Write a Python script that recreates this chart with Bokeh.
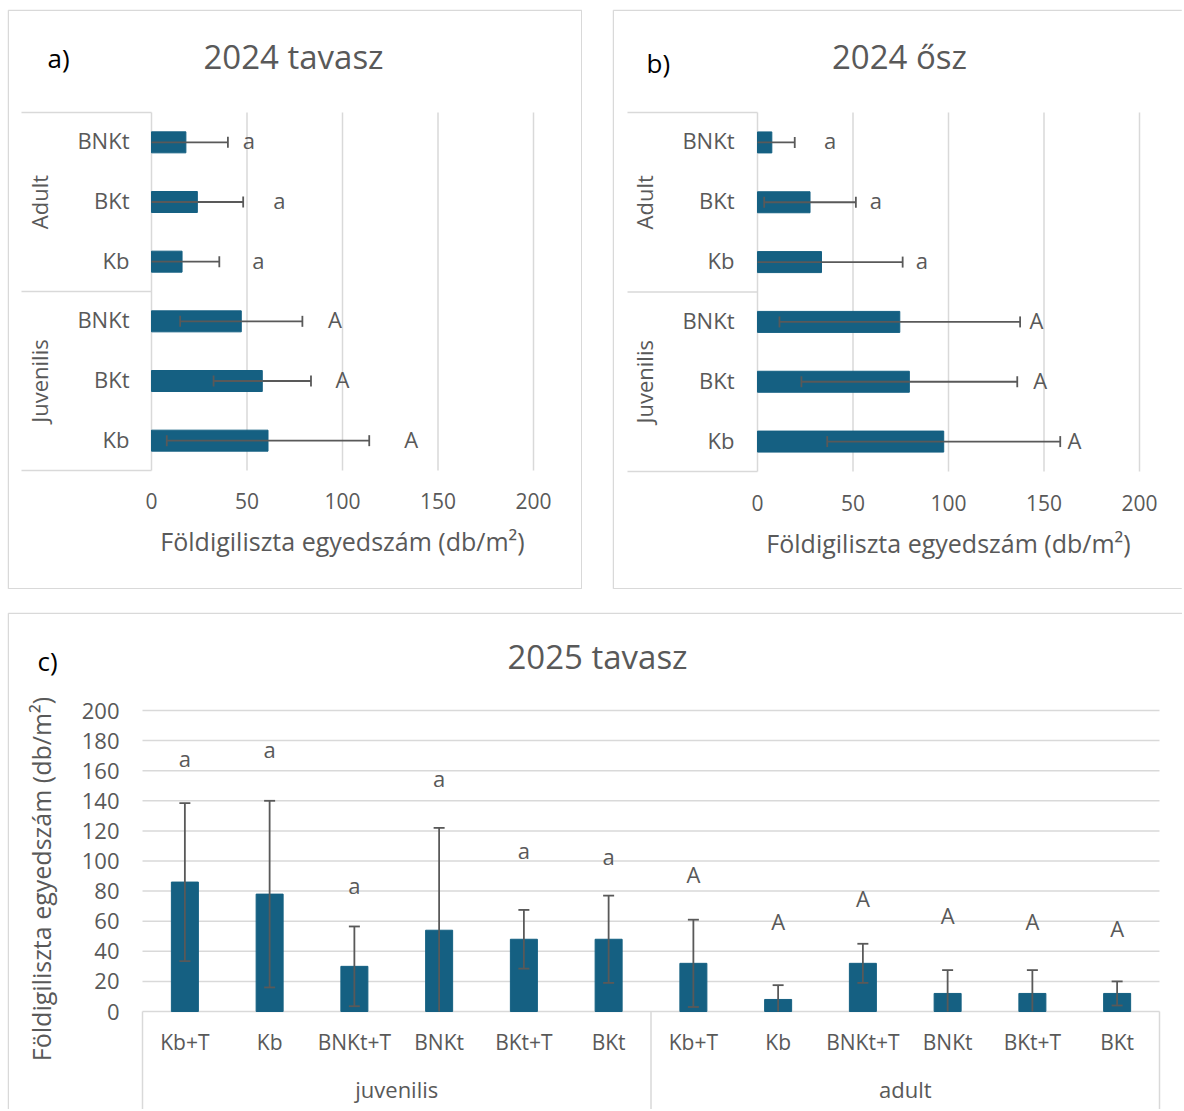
import math
from bokeh.plotting import figure
from bokeh.models import ColumnDataSource, Whisker, TeeHead, Range1d, Spacer
from bokeh.layouts import row, column
from bokeh.embed import file_html
from bokeh.resources import INLINE
from bokeh.core.properties import value

FONT = "Open Sans"
TXT = "#595959"
GRID = "#d9d9d9"
BAR = "#156082"
EB = "#595959"

# ---------------- data ----------------
# panels a and b: categories listed top -> bottom as in the reference
groups_ab = ["Adult", "Adult", "Adult", "Juvenilis", "Juvenilis", "Juvenilis"]
treat_ab = ["BNKt", "BKt", "Kb", "BNKt", "BKt", "Kb"]

a_mean = [18, 24, 16, 47, 58, 61]
a_err = [22, 24, 19.5, 32, 25.5, 53]
a_letters = ["a", "a", "a", "A", "A", "A"]
a_letter_x = [51, 67, 56, 96, 100, 136]

b_mean = [7.5, 27.5, 33.5, 74.5, 79.5, 97.5]
b_err = [12, 24, 42.5, 63, 56.5, 61]
b_letters = ["a", "a", "a", "A", "A", "A"]
b_letter_x = [38, 62, 86, 146, 148, 166]

value_ticks = [0, 50, 100, 150, 200]

# panel c
c_groups = ["juvenilis", "juvenilis", "juvenilis", "juvenilis", "juvenilis", "juvenilis",
            "adult", "adult", "adult", "adult", "adult", "adult"]
c_treat = ["Kb+T", "Kb", "BNKt+T", "BNKt", "BKt+T", "BKt",
           "Kb+T", "Kb", "BNKt+T", "BNKt", "BKt+T", "BKt"]
c_mean = [86, 78, 30, 54, 48, 48, 32, 8, 32, 12, 12, 12]
c_err = [52.5, 62, 26.5, 68, 19.5, 29, 29, 9.5, 13, 15.5, 15.5, 8]
c_letters = ["a", "a", "a", "a", "a", "a", "A", "A", "A", "A", "A", "A"]
c_letter_y = [167, 173, 83, 154, 106, 102, 90, 59, 74, 63, 58.5, 54]
c_ticks = [0, 20, 40, 60, 80, 100, 120, 140, 160, 180, 200]

AXIS_TITLE = "Földigiliszta egyedszám (db/m²)"


# ---------------- helpers ----------------
def blank_fig(W, H, xr, yr):
    p = figure(width=W, height=H, x_range=xr, y_range=yr, output_backend="svg",
               toolbar_location=None, x_axis_location=None, y_axis_location=None,
               min_border=0, min_border_left=0, min_border_right=0,
               min_border_top=0, min_border_bottom=0)
    p.outline_line_color = None
    p.xgrid.grid_line_color = None
    p.ygrid.grid_line_color = None
    p.background_fill_color = "white"
    p.border_fill_color = "white"
    return p


def txt(p, xs, ys, texts, size, color=TXT, align="center", angle=0.0, dy=0):
    p.text(x=xs, y=ys, text=texts, text_font=value(FONT), text_font_size=size,
           text_color=color, text_align=align, text_baseline="middle", angle=angle,
           y_offset=dy)


def seg(p, x0, y0, x1, y1, color=GRID, width=1.5):
    p.segment(x0=x0, y0=y0, x1=x1, y1=y1, line_color=color, line_width=width)


def errorbars(p, base, mean, err, dim):
    upper = [m + e for m, e in zip(mean, err)]
    lower = [max(0.0, m - e) for m, e in zip(mean, err)]
    head = dict(size=11, line_color=EB, line_width=1.8)
    up = ColumnDataSource(dict(base=base, lo=mean, hi=upper))
    p.add_layout(Whisker(source=up, base="base", lower="lo", upper="hi", dimension=dim,
                         lower_head=None, upper_head=TeeHead(**head),
                         line_color=EB, line_width=1.8, level="overlay"))
    keep = [i for i in range(len(base)) if lower[i] > 0.5]
    clip = [i for i in range(len(base)) if lower[i] <= 0.5]
    for idx, with_head in ((keep, True), (clip, False)):
        if not idx:
            continue
        s = ColumnDataSource(dict(base=[base[i] for i in idx], lo=[lower[i] for i in idx],
                                  hi=[mean[i] for i in idx]))
        p.add_layout(Whisker(source=s, base="base", lower="lo", upper="hi", dimension=dim,
                             lower_head=TeeHead(**head) if with_head else None, upper_head=None,
                             line_color=EB, line_width=1.8, level="overlay"))


def groups_of(names):
    out = []
    for g in names:
        if g not in out:
            out.append(g)
    return out


# ---------------- panels a / b (horizontal bars) ----------------
def hpanel(g, mean, err, letters, letter_x, title, tag, border_right=True):
    n = len(treat_ab)
    row_px = (g["PB"] - g["PT"]) / n
    vscale = (g["PR"] - g["PL"]) / value_ticks[-1]
    X = lambda px: (px - g["PL"]) / vscale
    Y = lambda py: (g["PB"] - py) / row_px
    p = blank_fig(g["W"], g["H"], Range1d(X(g["X0"]), X(g["X0"] + g["W"])),
                  Range1d(Y(g["Y0"] + g["H"]), Y(g["Y0"])))
    rows = [n - i - 0.5 for i in range(n)]
    k = len(value_ticks)

    # vertical gridlines (value 0 doubles as category axis line)
    seg(p, value_ticks, [0] * k, value_ticks, [n] * k)
    # group separator lines of the category axis
    bounds = [0.0] + [float(n - i) for i in range(1, n) if groups_ab[i] != groups_ab[i - 1]] + [float(n)]
    seg(p, [X(g["SEP_L"])] * len(bounds), bounds, [0] * len(bounds), bounds)

    p.hbar(y=rows, left=0, right=mean, height=g["BAR_PX"] / row_px,
           fill_color=BAR, line_color=BAR)
    errorbars(p, rows, mean, err, "width")
    txt(p, letter_x, rows, letters, "22px", dy=-2)

    # category axis labels
    txt(p, [X(g["CAT_R"])] * n, rows, treat_ab, "22px", align="right", dy=-2)
    gnames = groups_of(groups_ab)
    gy = [sum(r for r, gg in zip(rows, groups_ab) if gg == name) /
          groups_ab.count(name) for name in gnames]
    txt(p, [X(g["GRP_X"])] * len(gnames), gy, gnames, "22px", angle=math.pi / 2)

    # value axis labels and title
    txt(p, value_ticks, [Y(g["TICK_Y"])] * k, [str(t) for t in value_ticks], "21px")
    txt(p, [X((g["PL"] + g["PR"]) / 2)], [Y(g["AXT_Y"])], [AXIS_TITLE], "25px")

    # chart title and panel tag
    txt(p, [X(g["TITLE_X"])], [Y(g["TITLE_Y"])], [title], "33px")
    txt(p, [X(g["TAG_X"])], [Y(g["TAG_Y"])], [tag], "26px", color="#000000", align="left")

    # panel border
    xl, xr_ = X(g["X0"] + 0.75), X(g["X0"] + g["W"] - 0.75)
    yt, yb = Y(g["Y0"] + 0.75), Y(g["Y0"] + g["H"] - 0.75)
    bx0, by0, bx1, by1 = [xl, xl, xl], [yb, yt, yb], [xl, xr_, xr_], [yt, yt, yb]
    if border_right:
        bx0.append(xr_); by0.append(yb); bx1.append(xr_); by1.append(yt)
    seg(p, bx0, by0, bx1, by1, width=1.5)
    return p


geo_a = dict(X0=7, Y0=9, W=575, H=580, PL=151, PR=533, PT=112, PB=470, BAR_PX=21,
             SEP_L=21, CAT_R=129, GRP_X=38, TICK_Y=500, AXT_Y=540,
             TITLE_X=293, TITLE_Y=56, TAG_X=47, TAG_Y=57)
geo_b = dict(X0=612, Y0=9, W=570, H=580, PL=757, PR=1139, PT=112, PB=471, BAR_PX=21,
             SEP_L=627, CAT_R=734, GRP_X=643, TICK_Y=502, AXT_Y=542,
             TITLE_X=899, TITLE_Y=56, TAG_X=646, TAG_Y=62)

pa = hpanel(geo_a, a_mean, a_err, a_letters, a_letter_x, "2024 tavasz", "a)")
pb = hpanel(geo_b, b_mean, b_err, b_letters, b_letter_x, "2024 ősz", "b)", border_right=False)


# ---------------- panel c (vertical bars) ----------------
def cpanel(g):
    n = len(c_treat)
    slot = (g["PR"] - g["PL"]) / n
    vs = (g["PB"] - g["PT"]) / c_ticks[-1]
    X = lambda px: (px - g["PL"]) / slot
    Y = lambda py: (g["PB"] - py) / vs
    p = blank_fig(g["W"], g["H"], Range1d(X(g["X0"]), X(g["X0"] + g["W"])),
                  Range1d(Y(g["Y0"] + g["H"]), Y(g["Y0"])))
    xs = [i + 0.5 for i in range(n)]
    k = len(c_ticks)

    # horizontal gridlines (0 doubles as the category axis line)
    seg(p, [0] * k, c_ticks, [n] * k, c_ticks)
    bounds = [0.0] + [float(i) for i in range(1, n) if c_groups[i] != c_groups[i - 1]] + [float(n)]
    seg(p, bounds, [0] * len(bounds), bounds, [Y(g["Y0"] + g["H"])] * len(bounds))

    p.vbar(x=xs, bottom=0, top=c_mean, width=g["BAR_PX"] / slot, fill_color=BAR, line_color=BAR)
    errorbars(p, xs, c_mean, c_err, "height")
    txt(p, xs, c_letter_y, c_letters, "22px", dy=-2)

    # category axis
    txt(p, xs, [Y(g["CAT_Y"])] * n, c_treat, "21px")
    gnames = groups_of(c_groups)
    gx = [sum(x for x, gg in zip(xs, c_groups) if gg == name) / c_groups.count(name) for name in gnames]
    txt(p, gx, [Y(g["GRP_Y"])] * len(gnames), gnames, "22px")

    # value axis
    txt(p, [X(g["TICK_R"])] * k, c_ticks, [str(t) for t in c_ticks], "22px", align="right")
    txt(p, [X(g["AXT_X"])], [Y((g["PT"] + g["PB"]) / 2 + g["AXT_DY"])], [AXIS_TITLE], "25px",
        angle=math.pi / 2)

    txt(p, [X(g["TITLE_X"])], [Y(g["TITLE_Y"])], ["2025 tavasz"], "33px")
    txt(p, [X(g["TAG_X"])], [Y(g["TAG_Y"])], ["c)"], "26px", color="#000000", align="left")

    xl, xr_ = X(g["X0"] + 0.75), X(g["X0"] + g["W"])
    yt, yb = Y(g["Y0"] + 0.75), Y(g["Y0"] + g["H"])
    seg(p, [xl, xl], [yb, yt], [xl, xr_], [yt, yt], width=1.5)
    return p


geo_c = dict(X0=7, Y0=612, W=1175, H=497, PL=142, PR=1159, PT=710, PB=1011, BAR_PX=27,
             CAT_Y=1041, GRP_Y=1088, TICK_R=119, AXT_X=40, AXT_DY=18,
             TITLE_X=597, TITLE_Y=656, TAG_X=37, TAG_Y=660)
pc = cpanel(geo_c)

layout = column(
    Spacer(height=9),
    row(Spacer(width=7), pa, Spacer(width=30), pb),
    Spacer(height=23),
    row(Spacer(width=7), pc),
)
open("out.html", "w").write(file_html(layout, INLINE))
